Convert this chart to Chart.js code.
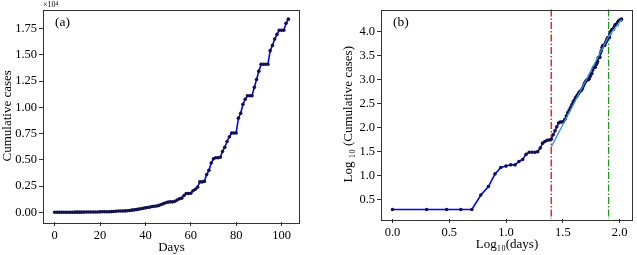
<!DOCTYPE html>
<html lang="en">
<head>
    <meta charset="UTF-8">
    <title>Cumulative cases</title>
    <style>
        body {
            margin: 0;
            background: #ffffff;
        }

        .wrap {
            position: relative;
            width: 637px;
            height: 255px;
            background: #ffffff;
        }

        canvas {
            position: absolute;
            top: 0;
        }

        #chartA { left: 0; }
        #chartB { left: 318px; }
    </style>
</head>
<body>
    <div class="wrap">
        <canvas id="chartA" width="318" height="255"></canvas>
        <canvas id="chartB" width="319" height="255"></canvas>
    </div>

    <script src="https://cdn.jsdelivr.net/npm/chart.js"></script>
    <script>
        const cases = [
            2, 2, 2, 2, 2, 4, 6, 11, 15, 16,
            17, 17, 20, 22, 28, 31, 31, 31, 32, 38,
            48, 52, 55, 56, 58, 72, 87, 105, 126, 132,
            132, 135, 151, 178, 209, 234, 263, 302, 347, 380,
            427, 457, 501, 550, 575, 603, 660, 741, 832, 912,
            977, 1000, 1000, 1050, 1175, 1300, 1350, 1600, 1800, 1800,
            1820, 2050, 2200, 2400, 2900, 2900, 2950, 3600, 4000, 4700,
            5100, 5200, 5200, 5250, 5800, 6200, 6750, 7200, 7550, 7550,
            7550, 8970, 9440, 10300, 10770, 11100, 11100, 11100, 11900, 12650,
            13450, 14100, 14100, 14100, 14100, 15400, 15900, 16500, 16950, 17350,
            17350, 17350, 18000, 18400
        ];

        const ticksAx = [0, 20, 40, 60, 80, 100];
        const ticksAy = [0, 0.25, 0.5, 0.75, 1.0, 1.25, 1.5, 1.75];
        const ticksBx = [0, 0.5, 1.0, 1.5, 2.0];
        const ticksBy = [0.5, 1.0, 1.5, 2.0, 2.5, 3.0, 3.5, 4.0];

        // fitted segments in panel b  [log10(day), log10(cases)]
        const fitA = [[1.398, 1.60], [1.903, 3.90]];
        const fitB = [[1.903, 3.90], [2.017, 4.25]];

        // vertical markers in panel b (log10 of day 25 and day 80)
        const markerDays = [25, 80];

        const serif = "'Liberation Serif', 'DejaVu Serif', serif";
        const tickFont = { family: serif, size: 12.5 };
        const titleFont = { family: serif, size: 13 };

        const ptsA = cases.map((c, i) => ({ x: i, y: c / 1e4 }));
        const ptsB = cases.map((c, i) => ({ x: Math.log10(i + 1), y: Math.log10(c) }));

        // frame, panel letter, vertical markers
        const framePlugin = {
            id: 'frame',
            beforeDatasetsDraw(chart, args, opts) {
                const { ctx, chartArea: a, scales } = chart;
                (opts.vlines || []).forEach(v => {
                    const px = scales.x.getPixelForValue(v.value);
                    ctx.save();
                    ctx.strokeStyle = v.color;
                    ctx.lineWidth = 1.3;
                    ctx.setLineDash([7, 2, 1.5, 2]);
                    ctx.beginPath();
                    ctx.moveTo(px, a.top);
                    ctx.lineTo(px, a.bottom);
                    ctx.stroke();
                    ctx.restore();
                });
            },
            afterDraw(chart, args, opts) {
                const { ctx, chartArea: a } = chart;
                ctx.save();
                ctx.strokeStyle = '#333333';
                ctx.lineWidth = 1;
                ctx.strokeRect(Math.round(a.left) + 0.5, Math.round(a.top) + 0.5,
                    Math.round(a.right - a.left) - 1, Math.round(a.bottom - a.top));
                ctx.fillStyle = '#000';
                ctx.font = '13.5px ' + serif;
                ctx.textBaseline = 'middle';
                ctx.fillText(opts.label, a.left + 12, a.top + 13);
                if (opts.offset) {
                    ctx.font = '8px ' + serif;
                    ctx.textBaseline = 'bottom';
                    ctx.fillText(opts.offset, a.left, a.top - 1);
                }
                ctx.restore();
            }
        };

        function axis(min, max, ticks, digits, title, fit, extra) {
            return Object.assign({
                type: 'linear',
                min: min,
                max: max,
                afterBuildTicks: s => { s.ticks = ticks.map(v => ({ value: v })); },
                ticks: {
                    font: tickFont,
                    color: '#000',
                    padding: 2,
                    maxRotation: 0,
                    autoSkip: false,
                    callback: v => digits < 0 ? String(v) : v.toFixed(digits)
                },
                grid: {
                    drawOnChartArea: false,
                    drawTicks: true,
                    tickLength: 4,
                    tickColor: '#333333'
                },
                border: { display: false },
                title: { display: true, text: title, font: titleFont, color: '#000', padding: 0 },
                afterFit: fit
            }, extra || {});
        }

        const lineStyle = {
            borderColor: '#0000ff',
            borderWidth: 1.6,
            pointRadius: 1.8,
            pointBackgroundColor: '#12124f',
            pointBorderWidth: 0,
            tension: 0
        };

        new Chart(document.getElementById('chartA'), {
            type: 'line',
            data: {
                datasets: [Object.assign({ data: ptsA }, lineStyle)]
            },
            options: {
                responsive: false,
                animation: false,
                layout: { padding: { left: 0, top: 9, right: 18, bottom: 0 } },
                plugins: {
                    legend: { display: false },
                    tooltip: { enabled: false },
                    frame: { label: '(a)', offset: '×10⁴' }
                },
                scales: {
                    x: axis(-5.15, 108.15, ticksAx, -1, 'Days', s => { s.height = 33; }),
                    y: axis(-0.092, 1.932, ticksAy, 2, 'Cumulative cases', s => { s.width = 43; })
                }
            },
            plugins: [framePlugin]
        });

        new Chart(document.getElementById('chartB'), {
            type: 'line',
            data: {
                datasets: [
                    {
                        data: fitA.map(p => ({ x: p[0], y: p[1] })),
                        borderColor: '#2f8fe0',
                        borderWidth: 1.3,
                        pointRadius: 0,
                        order: 0
                    },
                    {
                        data: fitB.map(p => ({ x: p[0], y: p[1] })),
                        borderColor: '#58b8f0',
                        borderWidth: 1.3,
                        pointRadius: 0,
                        order: 0
                    },
                    Object.assign({ data: ptsB, order: 1 }, lineStyle)
                ]
            },
            options: {
                responsive: false,
                animation: false,
                layout: { padding: { left: 0, top: 9, right: 1, bottom: 0 } },
                plugins: {
                    legend: { display: false },
                    tooltip: { enabled: false },
                    frame: {
                        label: '(b)',
                        vlines: [
                            { value: Math.log10(markerDays[0]), color: '#ff0000' },
                            { value: Math.log10(markerDays[1]), color: '#1c9a1c' }
                        ]
                    }
                },
                scales: {
                    x: axis(-0.101, 2.118, ticksBx, 1, 'Log₁₀(days)', s => { s.height = 36; },
                        { title: { display: true, text: 'Log₁₀(days)', font: titleFont, color: '#000', padding: { top: 0, bottom: 2.5 } } }),
                    y: axis(0.103, 4.463, ticksBy, 1, 'Log ₁₀ (Cumulative cases)', s => { s.width = 63; },
                        { title: { display: true, text: 'Log ₁₀ (Cumulative cases)', font: titleFont, color: '#000', padding: { top: 23, bottom: 0 } } })
                }
            },
            plugins: [framePlugin]
        });
    </script>
</body>
</html>
